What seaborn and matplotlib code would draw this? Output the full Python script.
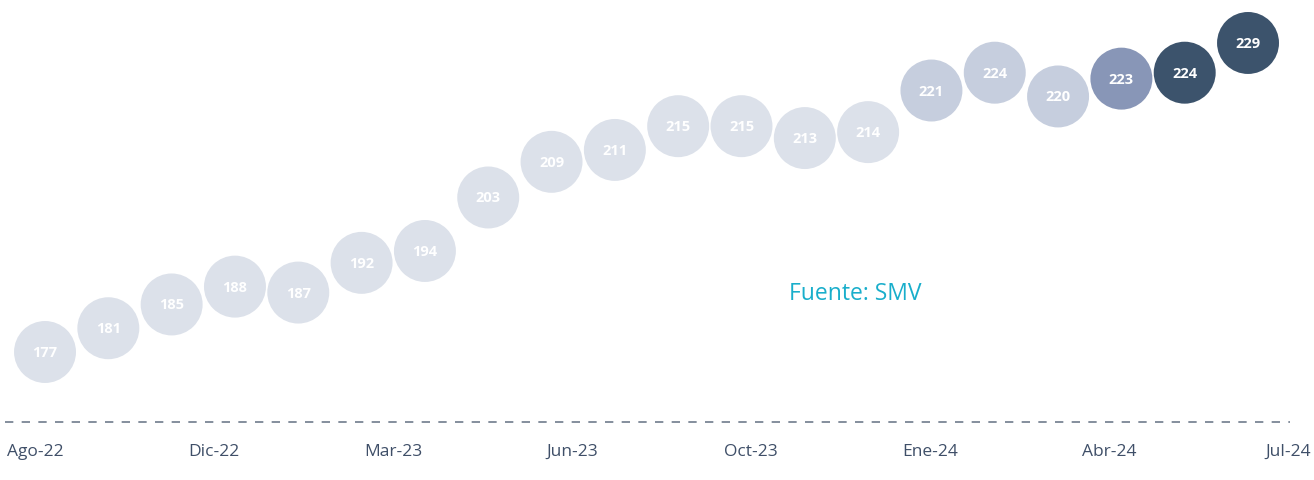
import seaborn as sns
import pandas as pd
import matplotlib.pyplot as plt

# monthly values shown in the bubbles
valores = [177, 181, 185, 188, 187, 192, 194, 203, 209, 211,
           215, 215, 213, 214, 221, 224, 220, 223, 224, 229]
# shade group for each bubble
tono = ["claro"] * 14 + ["medio", "medio", "medio", "fuerte", "oscuro", "oscuro"]
etiquetas_x = ["Ago-22", "Dic-22", "Mar-23", "Jun-23", "Oct-23", "Ene-24", "Abr-24", "Jul-24"]

paleta = {"claro": "#dce1ea", "medio": "#c6cede", "fuerte": "#8896b7", "oscuro": "#3c536c"}

df = pd.DataFrame({"x": range(len(valores)), "valor": valores, "tono": tono})

fig = plt.figure(figsize=(13.14, 4.81), dpi=100)
ax = fig.add_axes([0, 0, 1, 1])
sns.scatterplot(data=df, x="x", y="valor", hue="tono", palette=paleta, s=1990,
                edgecolor="none", legend=False, ax=ax)
for _, r in df.iterrows():
    ax.text(r["x"], r["valor"], str(r["valor"]), ha="center", va="center",
            color="white", fontsize=10.5, fontweight="bold", family="Open Sans")

ax.set_xlim(-0.711, 20.042)
ax.set_ylim(155.46, 236.40)
ax.axis("off")

# dashed baseline
ax.axhline(165.22, xmin=0.004, xmax=0.982, color="#6f7b8c", lw=1.2, dashes=(5, 5))

# month labels, evenly spread along the bottom
n = len(etiquetas_x)
for i, lab in enumerate(etiquetas_x):
    px = 35 + (1288 - 35) * i / (n - 1)
    ax.text(px / 1314, 29 / 481, lab, transform=ax.transAxes, ha="center", va="center",
            color="#3f4f68", fontsize=12.5, family="Open Sans")

ax.text(855 / 1314, (481 - 294) / 481, "Fuente: SMV", transform=ax.transAxes,
        ha="center", va="center", color="#19aecb", fontsize=16.5, family="Open Sans")

fig.savefig("out.png", dpi=100)
